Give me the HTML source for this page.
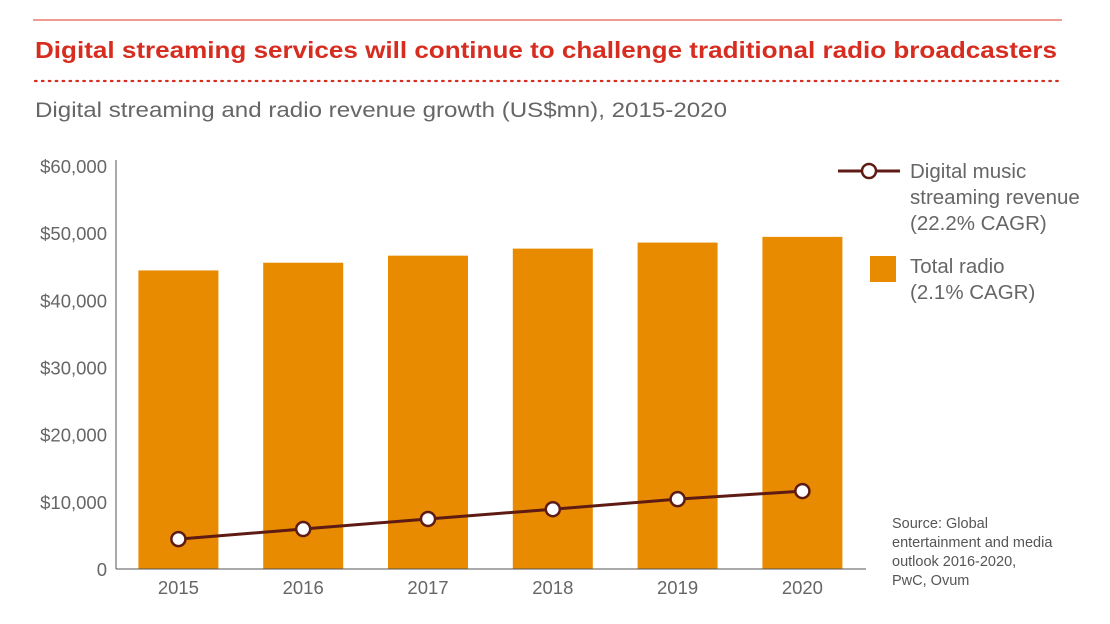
<!DOCTYPE html>
<html><head><meta charset="utf-8"><style>
body{margin:0;background:#fff;font-family:"Liberation Sans",Arial,sans-serif;}
#wrap{position:relative;width:1110px;height:624px;overflow:hidden;}
</style></head><body>
<div id="wrap">
<svg id="chart" width="1110" height="624" xmlns="http://www.w3.org/2000/svg">
<line x1="33" y1="20" x2="1062" y2="20" stroke="#ec7b6f" stroke-width="1.5"/>
<text x="35" y="58" font-size="23.5" font-weight="bold" fill="#d62d20" textLength="1022" lengthAdjust="spacingAndGlyphs">Digital streaming services will continue to challenge traditional radio broadcasters</text>
<line x1="35" y1="81" x2="1062" y2="81" stroke="#d62d20" stroke-width="2.2" stroke-dasharray="1.6 5.3" stroke-linecap="round"/>
<text x="35" y="117" font-size="21" fill="#666" textLength="692" lengthAdjust="spacingAndGlyphs">Digital streaming and radio revenue growth (US$mn), 2015-2020</text>
<g id="plot"></g>
<g>
<line x1="838" y1="171" x2="900" y2="171" stroke="#5e1b14" stroke-width="3"/>
<circle cx="869" cy="171" r="7" fill="#fff" stroke="#5e1b14" stroke-width="2.5"/>
<text font-size="20.5" fill="#666"><tspan x="910" y="178">Digital music</tspan><tspan x="910" y="204">streaming revenue</tspan><tspan x="910" y="230">(22.2% CAGR)</tspan></text>
<rect x="870" y="256" width="26" height="26" fill="#e88b00"/>
<text font-size="20.5" fill="#666"><tspan x="910" y="273">Total radio</tspan><tspan x="910" y="299">(2.1% CAGR)</tspan></text>
</g>
<text font-size="14.5" fill="#555"><tspan x="892" y="528">Source: Global</tspan><tspan x="892" y="547">entertainment and media</tspan><tspan x="892" y="566">outlook 2016-2020,</tspan><tspan x="892" y="585">PwC, Ovum</tspan></text>
</svg>
</div>
<script>
const categories = ["2015","2016","2017","2018","2019","2020"];
const radioValues = [44450, 45600, 46650, 47700, 48600, 49450];
const streamingValues = [4450, 5950, 7450, 8900, 10400, 11600];
const yTicks = [0, 10000, 20000, 30000, 40000, 50000, 60000];
const yTickLabels = ["0","$10,000","$20,000","$30,000","$40,000","$50,000","$60,000"];

const NS = "http://www.w3.org/2000/svg";
const g = document.getElementById("plot");
const y0 = 569, yTop = 166, yMax = 60000;
function yScale(v){ return y0 - (v / yMax) * (y0 - yTop); }
const xStart = 116, step = 124.8;
function xScale(i){ return xStart + step * (i + 0.5); }
function mk(tag, attrs){ const e = document.createElementNS(NS, tag); for (const k in attrs) e.setAttribute(k, attrs[k]); g.appendChild(e); return e; }

yTicks.forEach((t, i) => {
  const tx = mk("text", {x: 107, y: yScale(t) + 7, "font-size": 18.5, fill: "#666", "text-anchor": "end"});
  tx.textContent = yTickLabels[i];
  
  
});
radioValues.forEach((v, i) => {
  const r = mk("rect", {x: xScale(i) - 40, y: yScale(v), width: 80, height: y0 - yScale(v), fill: "#e88b00"});
  
  
});
const ax = mk("line", {x1: 116, y1: 160, x2: 116, y2: y0, stroke: "#555", "stroke-width": 1});


const bx = mk("line", {x1: 116, y1: y0, x2: 866, y2: y0, stroke: "#555", "stroke-width": 1});


categories.forEach((c, i) => {
  const tx = mk("text", {x: xScale(i), y: 594, "font-size": 18.5, fill: "#666", "text-anchor": "middle"});
  tx.textContent = c;
  
  
});
const pts = streamingValues.map((v, i) => xScale(i) + "," + yScale(v)).join(" ");
const pl = mk("polyline", {points: pts, fill: "none", stroke: "#5e1b14", "stroke-width": 3});


streamingValues.forEach((v, i) => {
  const c = mk("circle", {cx: xScale(i), cy: yScale(v), r: 7, fill: "#fff", stroke: "#5e1b14", "stroke-width": 2.5});
  
  
});
</script>
</body></html>
